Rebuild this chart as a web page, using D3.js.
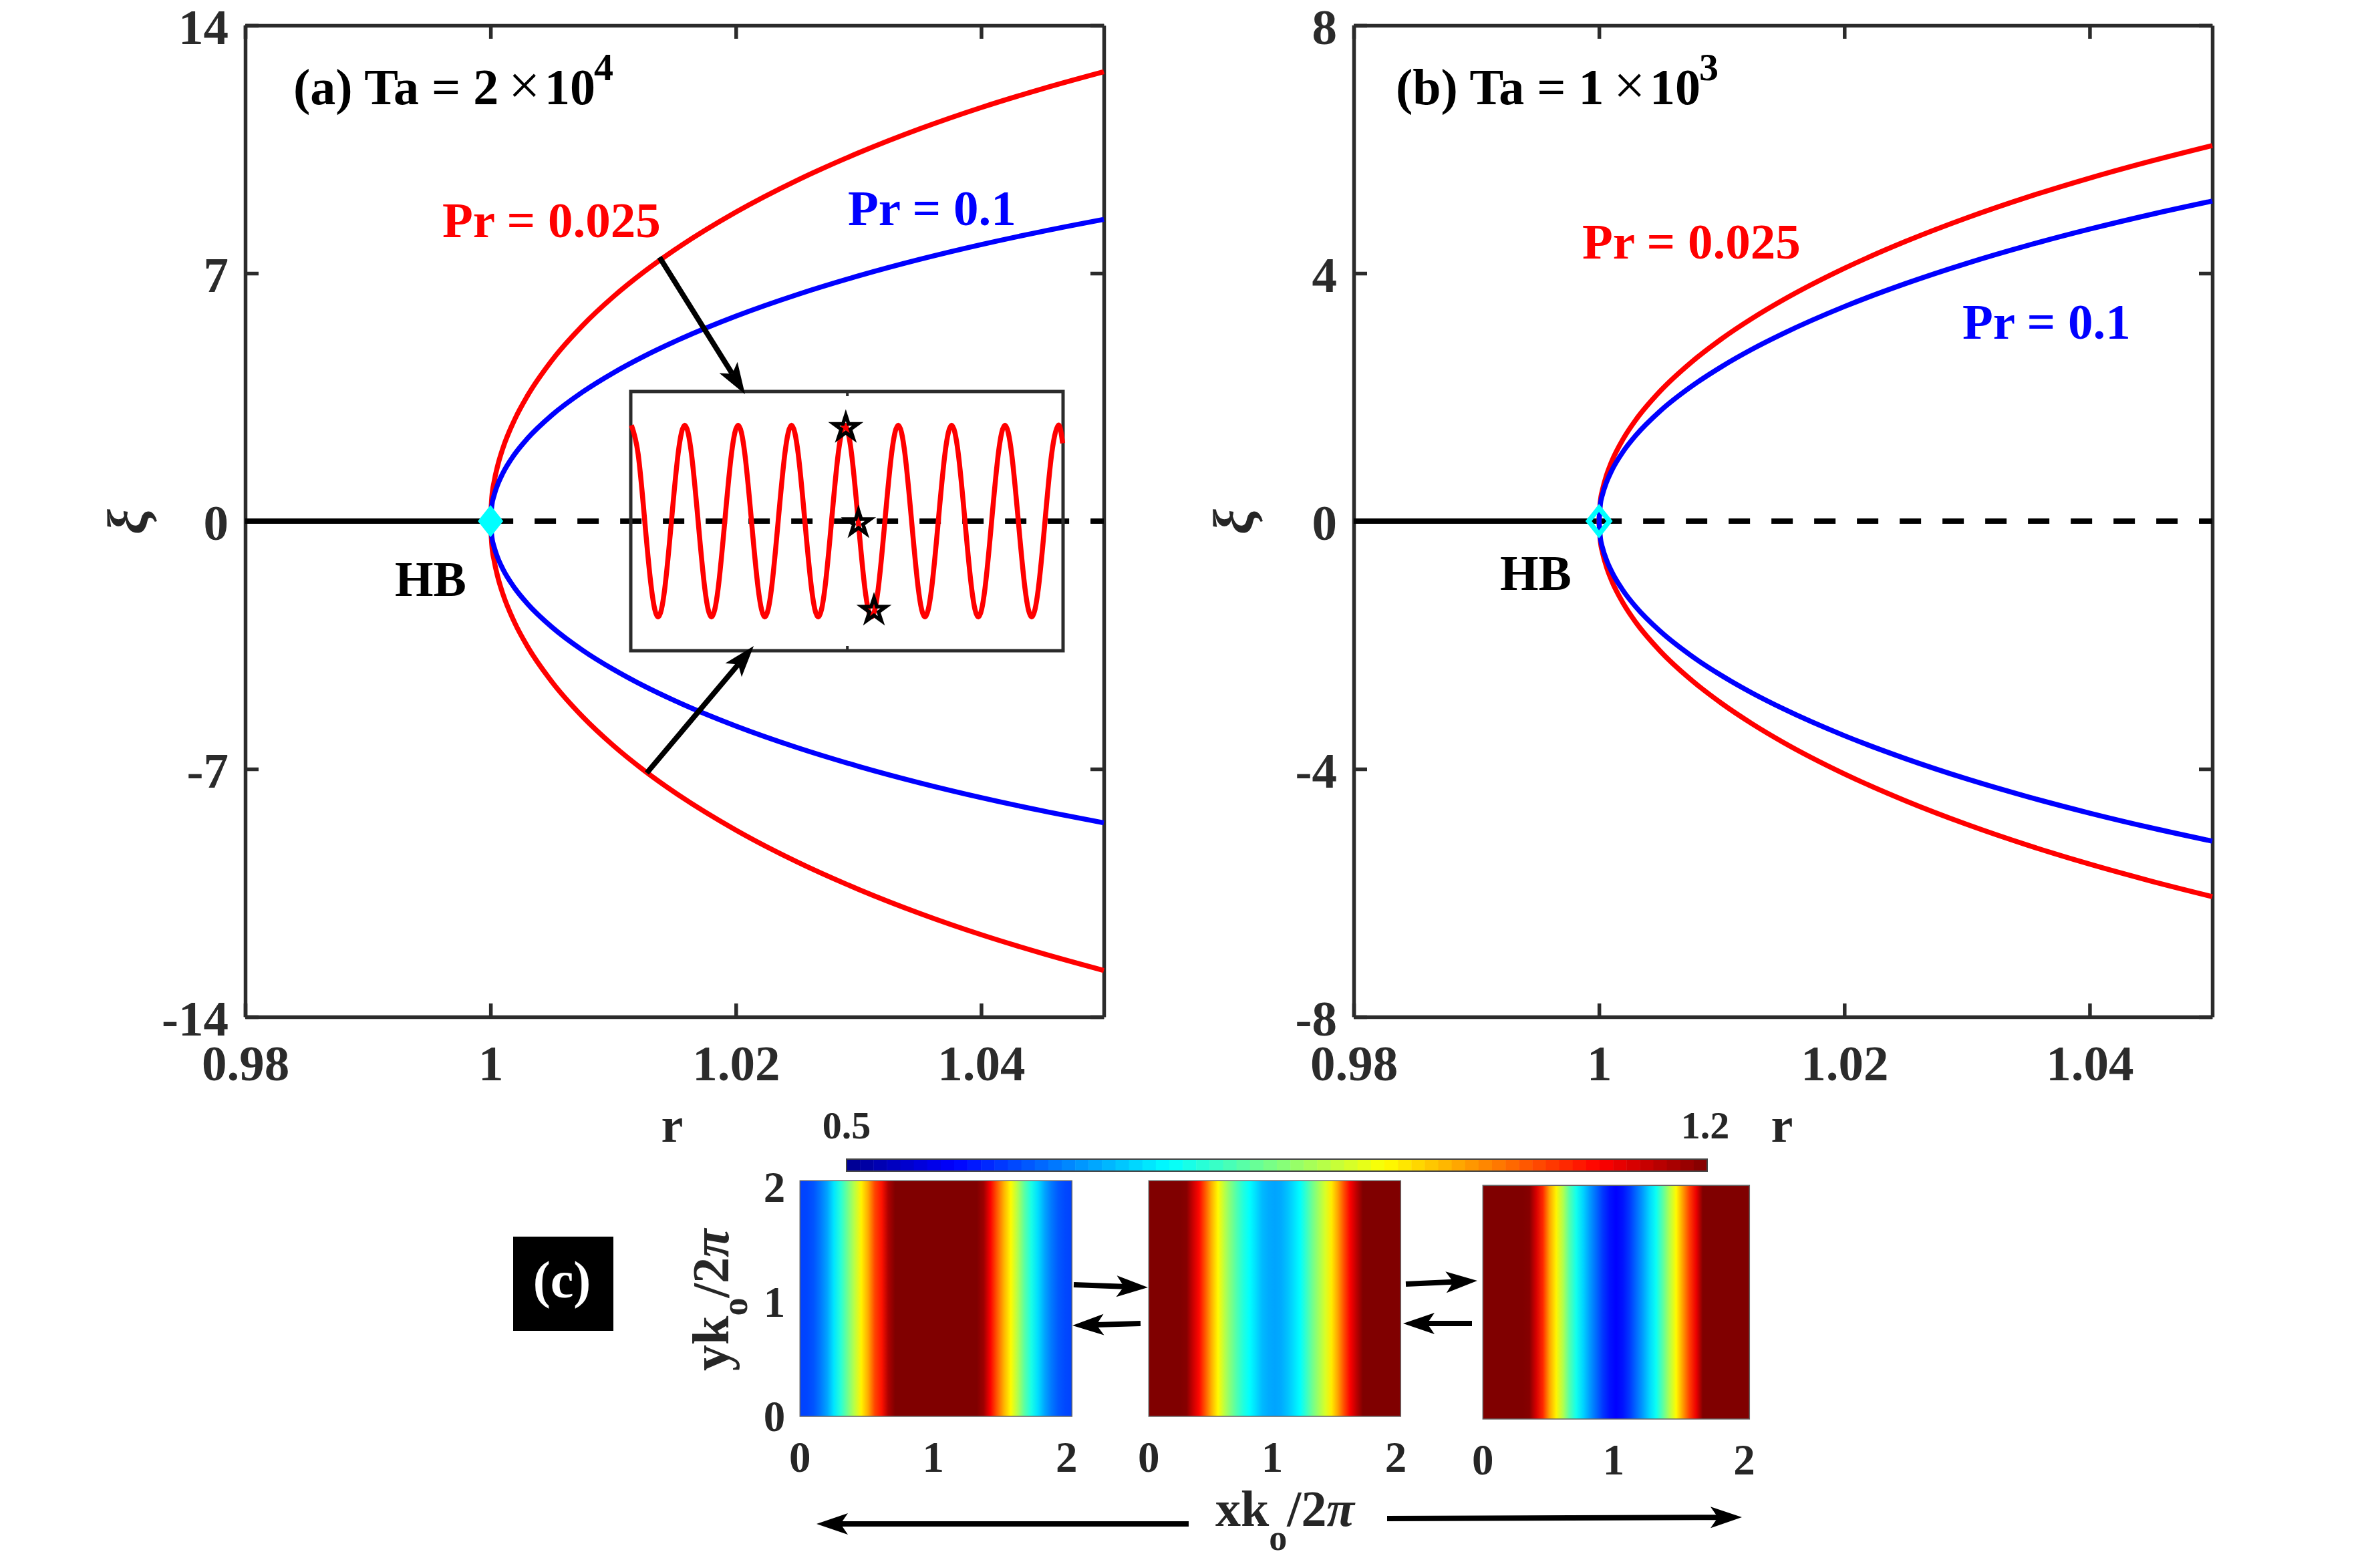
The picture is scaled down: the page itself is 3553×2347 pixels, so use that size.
<!DOCTYPE html>
<html>
<head>
<meta charset="utf-8">
<script src="https://cdn.jsdelivr.net/npm/d3@7"></script>
<style>
body{margin:0;background:#fff;}
text{font-family:"Liberation Serif",serif;font-weight:bold;}
</style>
</head>
<body>
<svg id="chart" width="3553" height="2347"></svg>
<script>
// bifurcation branches
const rValues=[1,1.0001,1.0003,1.0006,1.001,1.002,1.003,1.005,1.0075,1.01,1.0125,1.015,1.02,1.025,1.03,1.035,1.04,1.045,1.05];
const xiRedA=[0,0.650,1.125,1.589,2.050,2.892,3.533,4.538,5.522,6.335,7.037,7.658,8.726,9.626,10.40,11.08,11.68,12.21,12.69];
const xiBlueA=[0,0.428,0.741,1.047,1.350,1.906,2.329,2.993,3.646,4.186,4.654,5.069,5.787,6.396,6.925,7.392,7.808,8.182,8.520];
const xiRedB=[0,0.300,0.5195,0.7338,0.9467,1.336,1.634,2.101,2.560,2.942,3.273,3.568,4.079,4.514,4.895,5.233,5.536,5.809,6.060];
const xiBlueB=[0,0.254,0.440,0.622,0.802,1.132,1.384,1.780,2.170,2.494,2.776,3.026,3.462,3.834,4.161,4.451,4.712,4.949,5.165];

const rTicks=[0.98,1,1.02,1.04];
const xiTicksA=[-14,-7,0,7,14];
const xiTicksB=[-8,-4,0,4,8];

// inset time series
const insetTime=[0,0.125,0.25,0.375,0.5,0.625,0.75,0.875,
  1,1.125,1.25,1.375,1.5,1.625,1.75,1.875,
  2,2.125,2.25,2.375,2.5,2.625,2.75,2.875,
  3,3.125,3.25,3.375,3.5,3.625,3.75,3.875,
  4,4.125,4.25,4.375,4.5,4.625,4.75,4.875,
  5,5.125,5.25,5.375,5.5,5.625,5.75,5.875,
  6,6.125,6.25,6.375,6.5,6.625,6.75,6.875,
  7,7.125,7.25,7.375,7.5,7.625,7.75,7.875,
  8,8.08];
const insetXi=[7.4,5.2,0,-5.2,-7.4,-5.2,0,5.2,
  7.4,5.2,0,-5.2,-7.4,-5.2,0,5.2,
  7.4,5.2,0,-5.2,-7.4,-5.2,0,5.2,
  7.4,5.2,0,-5.2,-7.4,-5.2,0,5.2,
  7.4,5.2,0,-5.2,-7.4,-5.2,0,5.2,
  7.4,5.2,0,-5.2,-7.4,-5.2,0,5.2,
  7.4,5.2,0,-5.2,-7.4,-5.2,0,5.2,
  7.4,5.2,0,-5.2,-7.4,-5.2,0,5.2,
  7.4,6.0];
const starTime=[4.017,4.254,4.545];
const starXi=[7.2,-0.15,-6.9];

// field across x in the three snapshots, x step 0.05 from 0 to 2
const heatX=d3.range(41).map(i=>i*0.05);
const heat1=[.633,.635,.645,.67,.70,.745,.79,.84,.89,.945,
  .995,1.065,1.10,1.17,1.2,1.2,1.2,1.2,1.2,1.2,
  1.2,1.2,1.2,1.2,1.2,1.2,1.2,1.18,1.115,1.05,
  .99,.94,.885,.825,.78,.74,.70,.67,.648,.637,.633];
const heat2=[1.2,1.2,1.2,1.2,1.2,1.2,1.195,1.15,1.108,1.05,
  .99,.94,.89,.85,.815,.785,.7625,.74,.715,.705,
  .70,.705,.72,.74,.762,.80,.84,.875,.91,.95,
  1.0,1.06,1.115,1.16,1.2,1.2,1.2,1.2,1.2,1.2,1.2];
const heat3=[1.2,1.2,1.2,1.2,1.2,1.2,1.2,1.195,1.14,1.085,
  1.0,.945,.885,.82,.775,.735,.695,.66,.625,.60,
  .5875,.60,.625,.66,.695,.735,.77,.825,.885,.94,
  1.005,1.07,1.125,1.2,1.2,1.2,1.2,1.2,1.2,1.2,1.2];
const heatTicks=[0,1,2];
const cbarDomain=[0.5,1.2];
const cbarLevels=64;

const svg=d3.select("#chart");
const AXC="#2b2b2b";

const jet=d3.scaleLinear()
  .domain([0.5,0.5875,0.7625,0.9375,1.1125,1.2])
  .range(["#00008f","#0000ff","#00ffff","#ffff00","#ff0000","#800000"])
  .clamp(true);

function label(x,y,str,size,color,extra){
  const t=svg.append("text").attr("x",x).attr("y",y).attr("font-size",size).attr("fill",color||"#000").text(str);
  if(extra)extra(t);
  return t;
}

function styleAxis(g,size){
  g.select(".domain").attr("stroke",AXC).attr("stroke-width",5.5);
  g.selectAll(".tick line").attr("stroke",AXC).attr("stroke-width",5.5);
  g.selectAll(".tick text").attr("fill",AXC).attr("font-size",size).attr("font-family","Liberation Serif");
}

function arrow(x1,y1,x2,y2,w){
  const dx=x2-x1,dy=y2-y1,len=Math.sqrt(dx*dx+dy*dy),ux=dx/len,uy=dy/len;
  const headLen=47,half=16,notch=36;
  svg.append("line").attr("x1",x1).attr("y1",y1).attr("x2",x2-ux*notch).attr("y2",y2-uy*notch)
    .attr("stroke","#000").attr("stroke-width",w||8);
  const pts=[[x2,y2],[x2-ux*headLen-uy*half,y2-uy*headLen+ux*half],[x2-ux*notch,y2-uy*notch],[x2-ux*headLen+uy*half,y2-uy*headLen-ux*half]];
  svg.append("polygon").attr("points",pts.map(p=>p.join(",")).join(" ")).attr("fill","#000");
}

function branchPanel(left,xiMax,xiTicks,red,blue){
  const x=d3.scaleLinear().domain([0.98,1.05]).range([left,left+1285]);
  const y=d3.scaleLinear().domain([-xiMax,xiMax]).range([1522,38]);
  const line=d3.line().x(d=>x(d[0])).y(d=>y(d[1])).curve(d3.curveMonotoneX);
  const fmt=d=>String(d);

  const axB=svg.append("g").attr("transform","translate(0,1522)").call(d3.axisBottom(x).tickValues(rTicks).tickFormat(fmt).tickSize(-20).tickSizeOuter(0).tickPadding(42));
  const axT=svg.append("g").attr("transform","translate(0,38)").call(d3.axisTop(x).tickValues(rTicks).tickFormat("").tickSize(-20).tickSizeOuter(0));
  const axL=svg.append("g").attr("transform","translate("+left+",0)").call(d3.axisLeft(y).tickValues(xiTicks).tickFormat(fmt).tickSize(-20).tickSizeOuter(0).tickPadding(25));
  axL.selectAll(".tick text").attr("dy","0.36em");
  const axR=svg.append("g").attr("transform","translate("+(left+1285)+",0)").call(d3.axisRight(y).tickValues(xiTicks).tickFormat("").tickSize(-20).tickSizeOuter(0));
  [axB,axT,axL,axR].forEach(g=>styleAxis(g,75));

  svg.append("path").attr("d",d3.line().x(d=>x(d[0])).y(d=>y(d[1]))([[0.98,0],[1,0]])).attr("fill","none").attr("stroke","#000").attr("stroke-width",8);
  svg.append("path").attr("d",line([[1,0],[1.05,0]])).attr("fill","none").attr("stroke","#000").attr("stroke-width",8)
    .attr("stroke-dasharray","32 32").attr("stroke-dashoffset",-2);

  [[red,"#ff0000"],[blue,"#0000ff"]].forEach(s=>{
    const up=rValues.map((r,i)=>[r,s[0][i]]);
    const dn=rValues.map((r,i)=>[r,-s[0][i]]);
    [up,dn].forEach(pts=>{
      svg.append("path").attr("d",line(pts)).attr("fill","none").attr("stroke",s[1]).attr("stroke-width",7.5);
    });
  });
  return {x,y};
}

const A=branchPanel(367,14,xiTicksA,xiRedA,xiBlueA);
const B=branchPanel(2026,8,xiTicksB,xiRedB,xiBlueB);

// Hopf markers
const diamond=d3.symbol().type(d3.symbolDiamond);
svg.append("path").attr("d",diamond.size(665)()).attr("fill","#00ffff")
  .attr("transform","translate("+A.x(1)+","+A.y(0)+") scale(1.37,1)");
svg.append("path").attr("d",diamond.size(450)()).attr("fill","none").attr("stroke","#00ffff").attr("stroke-width",6)
  .attr("transform","translate("+B.x(1)+","+B.y(0)+") scale(1.37,1)");

// inset
const insetLeft=944,insetRight=1591,insetTop=586,insetBottom=974;
const ix=d3.scaleLinear().domain([-0.0125,8.088]).range([insetLeft,insetRight]);
const iy=d3.scaleLinear().domain([-10,10]).range([insetBottom,insetTop]);
svg.append("rect").attr("x",insetLeft).attr("y",insetTop).attr("width",insetRight-insetLeft).attr("height",insetBottom-insetTop)
  .attr("fill","none").attr("stroke",AXC).attr("stroke-width",5);
[[d3.axisBottom,insetBottom],[d3.axisTop,insetTop]].forEach(a=>{
  const g=svg.append("g").attr("transform","translate(0,"+a[1]+")").call(a[0](ix).tickValues([4.04]).tickFormat("").tickSize(-7).tickSizeOuter(0));
  g.select(".domain").remove();
  g.selectAll(".tick line").attr("stroke",AXC).attr("stroke-width",4);
});
svg.append("path").datum(insetTime.map((t,i)=>[t,insetXi[i]]))
  .attr("d",d3.line().x(d=>ix(d[0])).y(d=>iy(d[1])).curve(d3.curveNatural))
  .attr("fill","none").attr("stroke","#ff0000").attr("stroke-width",7.5);
svg.selectAll("path.star").data(starTime).enter().append("path").attr("class","star")
  .attr("d",d3.symbol().type(d3.symbolStar).size(400)())
  .attr("transform",(d,i)=>"translate("+ix(d)+","+iy(starXi[i])+")")
  .attr("fill","none").attr("stroke","#000").attr("stroke-width",5.5);

// arrows into the inset
arrow(987,385,1115,590);
arrow(968,1157,1128,967);

// panel text
function taLabel(left,base,tail,exp){
  label(left,156,"(" + base + ") Ta = " + tail,76);
  const off=base==="b"?4:0;
  label(left+off+322,156,"\u00d7",84,"#000",t=>t.style("font-weight","normal"));
  label(left+off+376,156,"10",76);
  label(left+off+450,120,exp,58);
}
taLabel(439,"a","2","4");
taLabel(2089,"b","1","3");

label(662,355,"Pr = 0.025",75,"#ff0000");
label(1269,337,"Pr = 0.1",75,"#0000ff");
label(2368,387,"Pr = 0.025",75,"#ff0000");
label(2937,507,"Pr = 0.1",75,"#0000ff");
label(591,892,"HB",74);
label(2245,883,"HB",74);

[219,1874].forEach(x=>{
  label(0,0,"\u03be",85,"#262626",t=>t.attr("transform","translate("+x+",781) rotate(-90)").attr("text-anchor","middle").style("font-style","italic"));
});

label(1006,1709,"r",74,"#262626",t=>t.attr("text-anchor","middle"));
label(2667,1709,"r",74,"#262626",t=>t.attr("text-anchor","middle"));

// colour bar
const cx=d3.scaleLinear().domain(cbarDomain).range([1267,2555]);
const cbarStep=(cbarDomain[1]-cbarDomain[0])/cbarLevels;
const cbarValues=d3.range(cbarLevels).map(i=>cbarDomain[0]+i*cbarStep);
svg.selectAll("rect.lev").data(cbarValues).enter().append("rect").attr("class","lev")
  .attr("x",d=>cx(d)).attr("y",1735).attr("width",cx(cbarStep+cbarDomain[0])-cx(cbarDomain[0])+0.5).attr("height",18)
  .attr("fill",d=>jet(d+cbarStep/2));
svg.append("rect").attr("x",1267).attr("y",1735).attr("width",1288).attr("height",18).attr("fill","none").attr("stroke","#444").attr("stroke-width",2);
label(cx(0.5),1704,"0.5",58,"#262626",t=>t.attr("text-anchor","middle"));
label(cx(1.2)-3,1704,"1.2",58,"#262626",t=>t.attr("text-anchor","middle"));

// heat panels
const defs=svg.append("defs");
const heatPanels=[
  {vals:heat1,l:1197.3,r:1604.3,t:1767.3,b:2120,lab:2203},
  {vals:heat2,l:1719.3,r:2096.3,t:1767.3,b:2120,lab:2203},
  {vals:heat3,l:2219.3,r:2618.3,t:1774.3,b:2124,lab:2207}
];
heatPanels.forEach((p,k)=>{
  const grad=defs.append("linearGradient").attr("id","heat"+k);
  const fx=d3.scaleLinear().domain([0,2]).range([0,100]);
  grad.selectAll("stop").data(heatX).enter().append("stop")
    .attr("offset",d=>fx(d)+"%").attr("stop-color",(d,i)=>jet(p.vals[i]));
  svg.append("rect").attr("x",p.l).attr("y",p.t).attr("width",p.r-p.l).attr("height",p.b-p.t)
    .attr("fill","url(#heat"+k+")").attr("stroke","#666").attr("stroke-width",1.5);
  const tx=d3.scaleLinear().domain([0,2.04]).range([p.l,p.r]);
  svg.selectAll("text.hx"+k).data(heatTicks).enter().append("text").attr("class","hx"+k)
    .attr("x",d=>tx(d)).attr("y",p.lab).attr("text-anchor","middle").attr("font-size",65).attr("fill","#262626").text(d=>d);
});
const hy=d3.scaleLinear().domain([0,2]).range([2120,1777]);
svg.selectAll("text.hy").data(heatTicks).enter().append("text").attr("class","hy")
  .attr("x",1159).attr("y",d=>hy(d)+22).attr("text-anchor","middle").attr("font-size",65).attr("fill","#262626").text(d=>d);

arrow(1607,1923,1718,1927);
arrow(1707,1981,1605,1984);
arrow(2104,1922,2211,1917);
arrow(2203,1981,2100,1981);
arrow(1779,2281,1222,2281);
arrow(2076,2273,2607,2271);

// axis labels of the snapshots
const ylab=svg.append("text").attr("transform","translate(1090,2052) rotate(-90)").attr("font-size",78).attr("fill","#262626");
ylab.append("tspan").text("yk");
ylab.append("tspan").attr("dy",28).attr("font-size",54).text("o");
ylab.append("tspan").attr("dy",-28).text("/2");
ylab.append("tspan").style("font-style","italic").text("\u03c0");

const xlab=svg.append("text").attr("x",1819).attr("y",2284).attr("font-size",76).attr("fill","#262626");
xlab.append("tspan").text("xk");
xlab.append("tspan").attr("dy",36).attr("font-size",54).text("o");
xlab.append("tspan").attr("dy",-36).text("/2");
xlab.append("tspan").style("font-style","italic").text("\u03c0");

// (c) tag
svg.append("rect").attr("x",768).attr("y",1851).attr("width",150).attr("height",141).attr("fill","#000");
label(841,1942,"(c)",78,"#fff",t=>t.attr("text-anchor","middle"));
</script>
</body>
</html>
